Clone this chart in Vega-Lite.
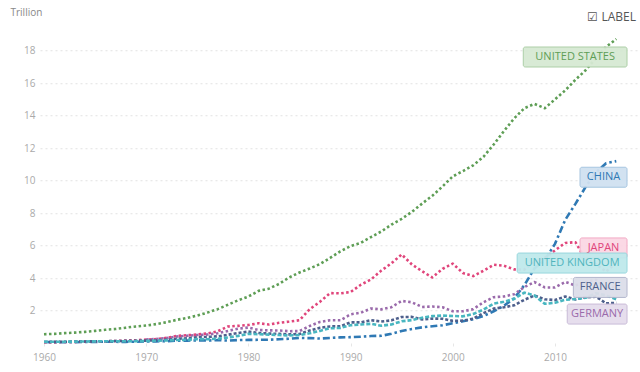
{
  "$schema": "https://vega.github.io/schema/vega-lite/v6.json",
  "autosize": {"type": "none"},
  "width": 600,
  "height": 308.75,
  "padding": {"left": 40, "top": 34.25, "right": 0, "bottom": 29},
  "config": {
    "font": "Open Sans",
    "view": {"stroke": null},
    "axis": {"labelFont": "Open Sans", "titleFont": "Open Sans"}
  },
  "title": {
    "text": "☑ LABEL",
    "anchor": "end",
    "orient": "top",
    "offset": -17,
    "fontSize": 12,
    "fontWeight": "normal",
    "color": "#555555",
    "font": "Open Sans",
    "dx": -4
  },
  "datasets": {
    "gdp": [
      {"country": "United States", "year": 1960, "gdp": 0.543},
      {"country": "United States", "year": 1961, "gdp": 0.563},
      {"country": "United States", "year": 1962, "gdp": 0.605},
      {"country": "United States", "year": 1963, "gdp": 0.639},
      {"country": "United States", "year": 1964, "gdp": 0.686},
      {"country": "United States", "year": 1965, "gdp": 0.744},
      {"country": "United States", "year": 1966, "gdp": 0.815},
      {"country": "United States", "year": 1967, "gdp": 0.862},
      {"country": "United States", "year": 1968, "gdp": 0.943},
      {"country": "United States", "year": 1969, "gdp": 1.020},
      {"country": "United States", "year": 1970, "gdp": 1.073},
      {"country": "United States", "year": 1971, "gdp": 1.165},
      {"country": "United States", "year": 1972, "gdp": 1.280},
      {"country": "United States", "year": 1973, "gdp": 1.425},
      {"country": "United States", "year": 1974, "gdp": 1.545},
      {"country": "United States", "year": 1975, "gdp": 1.685},
      {"country": "United States", "year": 1976, "gdp": 1.873},
      {"country": "United States", "year": 1977, "gdp": 2.082},
      {"country": "United States", "year": 1978, "gdp": 2.352},
      {"country": "United States", "year": 1979, "gdp": 2.627},
      {"country": "United States", "year": 1980, "gdp": 2.857},
      {"country": "United States", "year": 1981, "gdp": 3.207},
      {"country": "United States", "year": 1982, "gdp": 3.343},
      {"country": "United States", "year": 1983, "gdp": 3.634},
      {"country": "United States", "year": 1984, "gdp": 4.037},
      {"country": "United States", "year": 1985, "gdp": 4.339},
      {"country": "United States", "year": 1986, "gdp": 4.580},
      {"country": "United States", "year": 1987, "gdp": 4.855},
      {"country": "United States", "year": 1988, "gdp": 5.236},
      {"country": "United States", "year": 1989, "gdp": 5.642},
      {"country": "United States", "year": 1990, "gdp": 5.963},
      {"country": "United States", "year": 1991, "gdp": 6.158},
      {"country": "United States", "year": 1992, "gdp": 6.520},
      {"country": "United States", "year": 1993, "gdp": 6.859},
      {"country": "United States", "year": 1994, "gdp": 7.287},
      {"country": "United States", "year": 1995, "gdp": 7.640},
      {"country": "United States", "year": 1996, "gdp": 8.073},
      {"country": "United States", "year": 1997, "gdp": 8.578},
      {"country": "United States", "year": 1998, "gdp": 9.063},
      {"country": "United States", "year": 1999, "gdp": 9.631},
      {"country": "United States", "year": 2000, "gdp": 10.252},
      {"country": "United States", "year": 2001, "gdp": 10.582},
      {"country": "United States", "year": 2002, "gdp": 10.936},
      {"country": "United States", "year": 2003, "gdp": 11.458},
      {"country": "United States", "year": 2004, "gdp": 12.214},
      {"country": "United States", "year": 2005, "gdp": 13.037},
      {"country": "United States", "year": 2006, "gdp": 13.815},
      {"country": "United States", "year": 2007, "gdp": 14.452},
      {"country": "United States", "year": 2008, "gdp": 14.713},
      {"country": "United States", "year": 2009, "gdp": 14.449},
      {"country": "United States", "year": 2010, "gdp": 14.992},
      {"country": "United States", "year": 2011, "gdp": 15.543},
      {"country": "United States", "year": 2012, "gdp": 16.197},
      {"country": "United States", "year": 2013, "gdp": 16.785},
      {"country": "United States", "year": 2014, "gdp": 17.522},
      {"country": "United States", "year": 2015, "gdp": 18.219},
      {"country": "United States", "year": 2016, "gdp": 18.707},

      {"country": "China", "year": 1960, "gdp": 0.0597},
      {"country": "China", "year": 1961, "gdp": 0.0500},
      {"country": "China", "year": 1962, "gdp": 0.0472},
      {"country": "China", "year": 1963, "gdp": 0.0507},
      {"country": "China", "year": 1964, "gdp": 0.0597},
      {"country": "China", "year": 1965, "gdp": 0.0704},
      {"country": "China", "year": 1966, "gdp": 0.0768},
      {"country": "China", "year": 1967, "gdp": 0.0729},
      {"country": "China", "year": 1968, "gdp": 0.0700},
      {"country": "China", "year": 1969, "gdp": 0.0787},
      {"country": "China", "year": 1970, "gdp": 0.0926},
      {"country": "China", "year": 1971, "gdp": 0.0996},
      {"country": "China", "year": 1972, "gdp": 0.1136},
      {"country": "China", "year": 1973, "gdp": 0.1385},
      {"country": "China", "year": 1974, "gdp": 0.1442},
      {"country": "China", "year": 1975, "gdp": 0.1634},
      {"country": "China", "year": 1976, "gdp": 0.1539},
      {"country": "China", "year": 1977, "gdp": 0.1749},
      {"country": "China", "year": 1978, "gdp": 0.1495},
      {"country": "China", "year": 1979, "gdp": 0.1783},
      {"country": "China", "year": 1980, "gdp": 0.1911},
      {"country": "China", "year": 1981, "gdp": 0.1960},
      {"country": "China", "year": 1982, "gdp": 0.2051},
      {"country": "China", "year": 1983, "gdp": 0.2303},
      {"country": "China", "year": 1984, "gdp": 0.2599},
      {"country": "China", "year": 1985, "gdp": 0.3094},
      {"country": "China", "year": 1986, "gdp": 0.3004},
      {"country": "China", "year": 1987, "gdp": 0.2729},
      {"country": "China", "year": 1988, "gdp": 0.3126},
      {"country": "China", "year": 1989, "gdp": 0.3478},
      {"country": "China", "year": 1990, "gdp": 0.3609},
      {"country": "China", "year": 1991, "gdp": 0.3834},
      {"country": "China", "year": 1992, "gdp": 0.4265},
      {"country": "China", "year": 1993, "gdp": 0.4447},
      {"country": "China", "year": 1994, "gdp": 0.5643},
      {"country": "China", "year": 1995, "gdp": 0.7345},
      {"country": "China", "year": 1996, "gdp": 0.8637},
      {"country": "China", "year": 1997, "gdp": 0.9615},
      {"country": "China", "year": 1998, "gdp": 1.0290},
      {"country": "China", "year": 1999, "gdp": 1.0940},
      {"country": "China", "year": 2000, "gdp": 1.2113},
      {"country": "China", "year": 2001, "gdp": 1.3394},
      {"country": "China", "year": 2002, "gdp": 1.4706},
      {"country": "China", "year": 2003, "gdp": 1.6603},
      {"country": "China", "year": 2004, "gdp": 1.9553},
      {"country": "China", "year": 2005, "gdp": 2.2860},
      {"country": "China", "year": 2006, "gdp": 2.7521},
      {"country": "China", "year": 2007, "gdp": 3.5522},
      {"country": "China", "year": 2008, "gdp": 4.5982},
      {"country": "China", "year": 2009, "gdp": 5.1101},
      {"country": "China", "year": 2010, "gdp": 6.1006},
      {"country": "China", "year": 2011, "gdp": 7.5726},
      {"country": "China", "year": 2012, "gdp": 8.5605},
      {"country": "China", "year": 2013, "gdp": 9.6072},
      {"country": "China", "year": 2014, "gdp": 10.4824},
      {"country": "China", "year": 2015, "gdp": 11.0647},
      {"country": "China", "year": 2016, "gdp": 11.1910},

      {"country": "Japan", "year": 1960, "gdp": 0.0443},
      {"country": "Japan", "year": 1961, "gdp": 0.0537},
      {"country": "Japan", "year": 1962, "gdp": 0.0607},
      {"country": "Japan", "year": 1963, "gdp": 0.0699},
      {"country": "Japan", "year": 1964, "gdp": 0.0820},
      {"country": "Japan", "year": 1965, "gdp": 0.0910},
      {"country": "Japan", "year": 1966, "gdp": 0.1056},
      {"country": "Japan", "year": 1967, "gdp": 0.1237},
      {"country": "Japan", "year": 1968, "gdp": 0.1469},
      {"country": "Japan", "year": 1969, "gdp": 0.1720},
      {"country": "Japan", "year": 1970, "gdp": 0.2126},
      {"country": "Japan", "year": 1971, "gdp": 0.2403},
      {"country": "Japan", "year": 1972, "gdp": 0.3181},
      {"country": "Japan", "year": 1973, "gdp": 0.4325},
      {"country": "Japan", "year": 1974, "gdp": 0.4799},
      {"country": "Japan", "year": 1975, "gdp": 0.5218},
      {"country": "Japan", "year": 1976, "gdp": 0.5864},
      {"country": "Japan", "year": 1977, "gdp": 0.7215},
      {"country": "Japan", "year": 1978, "gdp": 1.0135},
      {"country": "Japan", "year": 1979, "gdp": 1.0557},
      {"country": "Japan", "year": 1980, "gdp": 1.1054},
      {"country": "Japan", "year": 1981, "gdp": 1.2184},
      {"country": "Japan", "year": 1982, "gdp": 1.1345},
      {"country": "Japan", "year": 1983, "gdp": 1.2434},
      {"country": "Japan", "year": 1984, "gdp": 1.3186},
      {"country": "Japan", "year": 1985, "gdp": 1.3985},
      {"country": "Japan", "year": 1986, "gdp": 2.0786},
      {"country": "Japan", "year": 1987, "gdp": 2.5327},
      {"country": "Japan", "year": 1988, "gdp": 3.0719},
      {"country": "Japan", "year": 1989, "gdp": 3.0541},
      {"country": "Japan", "year": 1990, "gdp": 3.1328},
      {"country": "Japan", "year": 1991, "gdp": 3.5843},
      {"country": "Japan", "year": 1992, "gdp": 3.9088},
      {"country": "Japan", "year": 1993, "gdp": 4.4545},
      {"country": "Japan", "year": 1994, "gdp": 4.9070},
      {"country": "Japan", "year": 1995, "gdp": 5.4491},
      {"country": "Japan", "year": 1996, "gdp": 4.8332},
      {"country": "Japan", "year": 1997, "gdp": 4.4143},
      {"country": "Japan", "year": 1998, "gdp": 4.0326},
      {"country": "Japan", "year": 1999, "gdp": 4.5625},
      {"country": "Japan", "year": 2000, "gdp": 4.8875},
      {"country": "Japan", "year": 2001, "gdp": 4.3035},
      {"country": "Japan", "year": 2002, "gdp": 4.1152},
      {"country": "Japan", "year": 2003, "gdp": 4.4457},
      {"country": "Japan", "year": 2004, "gdp": 4.8151},
      {"country": "Japan", "year": 2005, "gdp": 4.7554},
      {"country": "Japan", "year": 2006, "gdp": 4.5303},
      {"country": "Japan", "year": 2007, "gdp": 4.5153},
      {"country": "Japan", "year": 2008, "gdp": 5.0379},
      {"country": "Japan", "year": 2009, "gdp": 5.2314},
      {"country": "Japan", "year": 2010, "gdp": 5.7001},
      {"country": "Japan", "year": 2011, "gdp": 6.1575},
      {"country": "Japan", "year": 2012, "gdp": 6.2032},
      {"country": "Japan", "year": 2013, "gdp": 5.1557},
      {"country": "Japan", "year": 2014, "gdp": 4.8504},
      {"country": "Japan", "year": 2015, "gdp": 4.3949},
      {"country": "Japan", "year": 2016, "gdp": 4.9493},

      {"country": "Germany", "year": 1970, "gdp": 0.2151},
      {"country": "Germany", "year": 1971, "gdp": 0.2491},
      {"country": "Germany", "year": 1972, "gdp": 0.2997},
      {"country": "Germany", "year": 1973, "gdp": 0.3985},
      {"country": "Germany", "year": 1974, "gdp": 0.4454},
      {"country": "Germany", "year": 1975, "gdp": 0.4905},
      {"country": "Germany", "year": 1976, "gdp": 0.5192},
      {"country": "Germany", "year": 1977, "gdp": 0.6004},
      {"country": "Germany", "year": 1978, "gdp": 0.7406},
      {"country": "Germany", "year": 1979, "gdp": 0.8814},
      {"country": "Germany", "year": 1980, "gdp": 0.9501},
      {"country": "Germany", "year": 1981, "gdp": 0.8000},
      {"country": "Germany", "year": 1982, "gdp": 0.7767},
      {"country": "Germany", "year": 1983, "gdp": 0.7703},
      {"country": "Germany", "year": 1984, "gdp": 0.7257},
      {"country": "Germany", "year": 1985, "gdp": 0.7326},
      {"country": "Germany", "year": 1986, "gdp": 1.0464},
      {"country": "Germany", "year": 1987, "gdp": 1.2966},
      {"country": "Germany", "year": 1988, "gdp": 1.4018},
      {"country": "Germany", "year": 1989, "gdp": 1.3983},
      {"country": "Germany", "year": 1990, "gdp": 1.7649},
      {"country": "Germany", "year": 1991, "gdp": 1.8620},
      {"country": "Germany", "year": 1992, "gdp": 2.1238},
      {"country": "Germany", "year": 1993, "gdp": 2.0687},
      {"country": "Germany", "year": 1994, "gdp": 2.2059},
      {"country": "Germany", "year": 1995, "gdp": 2.5917},
      {"country": "Germany", "year": 1996, "gdp": 2.5035},
      {"country": "Germany", "year": 1997, "gdp": 2.2186},
      {"country": "Germany", "year": 1998, "gdp": 2.2439},
      {"country": "Germany", "year": 1999, "gdp": 2.1994},
      {"country": "Germany", "year": 2000, "gdp": 1.9499},
      {"country": "Germany", "year": 2001, "gdp": 1.9500},
      {"country": "Germany", "year": 2002, "gdp": 2.0791},
      {"country": "Germany", "year": 2003, "gdp": 2.5053},
      {"country": "Germany", "year": 2004, "gdp": 2.8193},
      {"country": "Germany", "year": 2005, "gdp": 2.8614},
      {"country": "Germany", "year": 2006, "gdp": 3.0026},
      {"country": "Germany", "year": 2007, "gdp": 3.4399},
      {"country": "Germany", "year": 2008, "gdp": 3.7523},
      {"country": "Germany", "year": 2009, "gdp": 3.4180},
      {"country": "Germany", "year": 2010, "gdp": 3.4171},
      {"country": "Germany", "year": 2011, "gdp": 3.7577},
      {"country": "Germany", "year": 2012, "gdp": 3.5440},
      {"country": "Germany", "year": 2013, "gdp": 3.7527},
      {"country": "Germany", "year": 2014, "gdp": 3.8902},
      {"country": "Germany", "year": 2015, "gdp": 3.3759},
      {"country": "Germany", "year": 2016, "gdp": 3.4778},

      {"country": "France", "year": 1960, "gdp": 0.0623},
      {"country": "France", "year": 1961, "gdp": 0.0677},
      {"country": "France", "year": 1962, "gdp": 0.0759},
      {"country": "France", "year": 1963, "gdp": 0.0850},
      {"country": "France", "year": 1964, "gdp": 0.0947},
      {"country": "France", "year": 1965, "gdp": 0.1020},
      {"country": "France", "year": 1966, "gdp": 0.1103},
      {"country": "France", "year": 1967, "gdp": 0.1189},
      {"country": "France", "year": 1968, "gdp": 0.1298},
      {"country": "France", "year": 1969, "gdp": 0.1407},
      {"country": "France", "year": 1970, "gdp": 0.1486},
      {"country": "France", "year": 1971, "gdp": 0.1650},
      {"country": "France", "year": 1972, "gdp": 0.2031},
      {"country": "France", "year": 1973, "gdp": 0.2645},
      {"country": "France", "year": 1974, "gdp": 0.2861},
      {"country": "France", "year": 1975, "gdp": 0.3605},
      {"country": "France", "year": 1976, "gdp": 0.3725},
      {"country": "France", "year": 1977, "gdp": 0.4100},
      {"country": "France", "year": 1978, "gdp": 0.5066},
      {"country": "France", "year": 1979, "gdp": 0.6134},
      {"country": "France", "year": 1980, "gdp": 0.7012},
      {"country": "France", "year": 1981, "gdp": 0.6153},
      {"country": "France", "year": 1982, "gdp": 0.5849},
      {"country": "France", "year": 1983, "gdp": 0.5595},
      {"country": "France", "year": 1984, "gdp": 0.5303},
      {"country": "France", "year": 1985, "gdp": 0.5536},
      {"country": "France", "year": 1986, "gdp": 0.7709},
      {"country": "France", "year": 1987, "gdp": 0.9338},
      {"country": "France", "year": 1988, "gdp": 1.0198},
      {"country": "France", "year": 1989, "gdp": 1.0257},
      {"country": "France", "year": 1990, "gdp": 1.2694},
      {"country": "France", "year": 1991, "gdp": 1.2692},
      {"country": "France", "year": 1992, "gdp": 1.4013},
      {"country": "France", "year": 1993, "gdp": 1.3228},
      {"country": "France", "year": 1994, "gdp": 1.3934},
      {"country": "France", "year": 1995, "gdp": 1.6012},
      {"country": "France", "year": 1996, "gdp": 1.6054},
      {"country": "France", "year": 1997, "gdp": 1.4523},
      {"country": "France", "year": 1998, "gdp": 1.5031},
      {"country": "France", "year": 1999, "gdp": 1.4928},
      {"country": "France", "year": 2000, "gdp": 1.3622},
      {"country": "France", "year": 2001, "gdp": 1.3764},
      {"country": "France", "year": 2002, "gdp": 1.4944},
      {"country": "France", "year": 2003, "gdp": 1.8404},
      {"country": "France", "year": 2004, "gdp": 2.1157},
      {"country": "France", "year": 2005, "gdp": 2.1963},
      {"country": "France", "year": 2006, "gdp": 2.3188},
      {"country": "France", "year": 2007, "gdp": 2.6574},
      {"country": "France", "year": 2008, "gdp": 2.9183},
      {"country": "France", "year": 2009, "gdp": 2.6901},
      {"country": "France", "year": 2010, "gdp": 2.6426},
      {"country": "France", "year": 2011, "gdp": 2.8617},
      {"country": "France", "year": 2012, "gdp": 2.6835},
      {"country": "France", "year": 2013, "gdp": 2.8112},
      {"country": "France", "year": 2014, "gdp": 2.8523},
      {"country": "France", "year": 2015, "gdp": 2.4383},
      {"country": "France", "year": 2016, "gdp": 2.4713},

      {"country": "United Kingdom", "year": 1960, "gdp": 0.0724},
      {"country": "United Kingdom", "year": 1961, "gdp": 0.0770},
      {"country": "United Kingdom", "year": 1962, "gdp": 0.0810},
      {"country": "United Kingdom", "year": 1963, "gdp": 0.0866},
      {"country": "United Kingdom", "year": 1964, "gdp": 0.0945},
      {"country": "United Kingdom", "year": 1965, "gdp": 0.1012},
      {"country": "United Kingdom", "year": 1966, "gdp": 0.1072},
      {"country": "United Kingdom", "year": 1967, "gdp": 0.1114},
      {"country": "United Kingdom", "year": 1968, "gdp": 0.1049},
      {"country": "United Kingdom", "year": 1969, "gdp": 0.1128},
      {"country": "United Kingdom", "year": 1970, "gdp": 0.1247},
      {"country": "United Kingdom", "year": 1971, "gdp": 0.1400},
      {"country": "United Kingdom", "year": 1972, "gdp": 0.1612},
      {"country": "United Kingdom", "year": 1973, "gdp": 0.1863},
      {"country": "United Kingdom", "year": 1974, "gdp": 0.2012},
      {"country": "United Kingdom", "year": 1975, "gdp": 0.2413},
      {"country": "United Kingdom", "year": 1976, "gdp": 0.2321},
      {"country": "United Kingdom", "year": 1977, "gdp": 0.2638},
      {"country": "United Kingdom", "year": 1978, "gdp": 0.3352},
      {"country": "United Kingdom", "year": 1979, "gdp": 0.4384},
      {"country": "United Kingdom", "year": 1980, "gdp": 0.5646},
      {"country": "United Kingdom", "year": 1981, "gdp": 0.5403},
      {"country": "United Kingdom", "year": 1982, "gdp": 0.5150},
      {"country": "United Kingdom", "year": 1983, "gdp": 0.4896},
      {"country": "United Kingdom", "year": 1984, "gdp": 0.4614},
      {"country": "United Kingdom", "year": 1985, "gdp": 0.4894},
      {"country": "United Kingdom", "year": 1986, "gdp": 0.6010},
      {"country": "United Kingdom", "year": 1987, "gdp": 0.7452},
      {"country": "United Kingdom", "year": 1988, "gdp": 0.9103},
      {"country": "United Kingdom", "year": 1989, "gdp": 0.9260},
      {"country": "United Kingdom", "year": 1990, "gdp": 1.0932},
      {"country": "United Kingdom", "year": 1991, "gdp": 1.1421},
      {"country": "United Kingdom", "year": 1992, "gdp": 1.1791},
      {"country": "United Kingdom", "year": 1993, "gdp": 1.0613},
      {"country": "United Kingdom", "year": 1994, "gdp": 1.1404},
      {"country": "United Kingdom", "year": 1995, "gdp": 1.3353},
      {"country": "United Kingdom", "year": 1996, "gdp": 1.4082},
      {"country": "United Kingdom", "year": 1997, "gdp": 1.5541},
      {"country": "United Kingdom", "year": 1998, "gdp": 1.6529},
      {"country": "United Kingdom", "year": 1999, "gdp": 1.6870},
      {"country": "United Kingdom", "year": 2000, "gdp": 1.6617},
      {"country": "United Kingdom", "year": 2001, "gdp": 1.6409},
      {"country": "United Kingdom", "year": 2002, "gdp": 1.7847},
      {"country": "United Kingdom", "year": 2003, "gdp": 2.0546},
      {"country": "United Kingdom", "year": 2004, "gdp": 2.4219},
      {"country": "United Kingdom", "year": 2005, "gdp": 2.5385},
      {"country": "United Kingdom", "year": 2006, "gdp": 2.7132},
      {"country": "United Kingdom", "year": 2007, "gdp": 3.0994},
      {"country": "United Kingdom", "year": 2008, "gdp": 2.9237},
      {"country": "United Kingdom", "year": 2009, "gdp": 2.4109},
      {"country": "United Kingdom", "year": 2010, "gdp": 2.4753},
      {"country": "United Kingdom", "year": 2011, "gdp": 2.6595},
      {"country": "United Kingdom", "year": 2012, "gdp": 2.7047},
      {"country": "United Kingdom", "year": 2013, "gdp": 2.7860},
      {"country": "United Kingdom", "year": 2014, "gdp": 3.0649},
      {"country": "United Kingdom", "year": 2015, "gdp": 2.9285},
      {"country": "United Kingdom", "year": 2016, "gdp": 2.6940}
    ],
    "labels": [
      {"country": "United States", "label": "UNITED STATES", "start": 2006.9, "end": 2017.05, "value": 17.6},
      {"country": "China", "label": "CHINA", "start": 2012.45, "end": 2017.05, "value": 10.2},
      {"country": "Japan", "label": "JAPAN", "start": 2012.45, "end": 2017.05, "value": 5.85},
      {"country": "United Kingdom", "label": "UNITED KINGDOM", "start": 2006.3, "end": 2017.05, "value": 4.92},
      {"country": "France", "label": "FRANCE", "start": 2011.8, "end": 2017.05, "value": 3.42},
      {"country": "Germany", "label": "GERMANY", "start": 2011.2, "end": 2017.05, "value": 1.78}
    ]
  },
  "layer": [
    {
      "data": {"name": "gdp"},
      "mark": {"type": "line", "strokeWidth": 2.6, "strokeCap": "butt", "strokeJoin": "round"},
      "encoding": {
        "x": {
          "field": "year", "type": "quantitative",
          "scale": {"domain": [1959.61, 2018.32], "nice": false, "zero": false},
          "axis": {
            "title": null, "values": [1960, 1970, 1980, 1990, 2000, 2010], "tickCount": 20,
            "format": "d", "domain": false, "grid": false,
            "ticks": true, "tickSize": 3, "tickColor": "#e6e6e6",
            "labelColor": "#aaaaaa", "labelFontSize": 10, "labelPadding": 6
          }
        },
        "y": {
          "field": "gdp", "type": "quantitative",
          "scale": {"domain": [0, 19], "nice": false},
          "axis": {
            "title": "Trillion", "titleAngle": 0, "titleAlign": "left", "titleBaseline": "middle",
            "titleX": -30, "titleY": -22, "titleColor": "#888888", "titleFontSize": 10, "titleFontWeight": "normal",
            "values": [2, 4, 6, 8, 10, 12, 14, 16, 18], "tickCount": 20,
            "labelOverlap": false, "labelBound": false,
            "domain": false, "ticks": false,
            "labelColor": "#aaaaaa", "labelFontSize": 10, "labelPadding": 5,
            "grid": true, "gridColor": "#e2e2e2", "gridDash": [2, 3], "gridWidth": 1
          }
        },
        "color": {
          "field": "country", "type": "nominal", "legend": null,
          "scale": {
            "domain": ["United States", "China", "Japan", "Germany", "France", "United Kingdom"],
            "range": ["#5e9e55", "#2f79b4", "#e0457b", "#9a6aab", "#4d5f8c", "#48b6c0"]
          }
        },
        "strokeDash": {
          "field": "country", "type": "nominal", "legend": null,
          "scale": {
            "domain": ["United States", "China", "Japan", "Germany", "France", "United Kingdom"],
            "range": [[2.5, 2.5], [7, 3, 2.5, 3], [2.5, 2.5], [2.5, 2.5], [3, 2], [4, 2]]
          }
        },
        "detail": {"field": "country"}
      }
    },
    {
      "data": {"name": "labels"},
      "transform": [{"filter": "datum.country != 'United Kingdom'"}],
      "mark": {"type": "rect", "height": 20, "cornerRadius": 2, "strokeWidth": 1, "opacity": 0.95},
      "encoding": {
        "x": {"field": "start", "type": "quantitative"},
        "x2": {"field": "end"},
        "y": {"field": "value", "type": "quantitative"},
        "fill": {
          "field": "country", "type": "nominal", "legend": null,
          "scale": {
            "domain": ["United States", "China", "Japan", "Germany", "France", "United Kingdom"],
            "range": ["#d6e9d3", "#d0e1f1", "#fbd7e4", "#e5dded", "#dcdee9", "#bfe9ec"]
          }
        },
        "stroke": {
          "field": "country", "type": "nominal", "legend": null,
          "scale": {
            "domain": ["United States", "China", "Japan", "Germany", "France", "United Kingdom"],
            "range": ["#a9cda3", "#a3c3df", "#f2a7c2", "#c7b9d6", "#b0b4cb", "#93d6dc"]
          }
        }
      }
    },
    {
      "data": {"name": "labels"},
      "transform": [
        {"filter": "datum.country != 'United Kingdom'"},
        {"calculate": "(datum.start + datum.end) / 2", "as": "mid"}
      ],
      "mark": {"type": "text", "align": "center", "baseline": "middle", "fontSize": 11, "font": "Open Sans"},
      "encoding": {
        "x": {"field": "mid", "type": "quantitative"},
        "y": {"field": "value", "type": "quantitative"},
        "text": {"field": "label"},
        "color": {
          "field": "country", "type": "nominal", "legend": null,
          "scale": {
            "domain": ["United States", "China", "Japan", "Germany", "France", "United Kingdom"],
            "range": ["#5e9e55", "#3f7db3", "#e0457b", "#9a87b2", "#5a6591", "#4fb4bd"]
          }
        }
      }
    },
    {
      "data": {"name": "labels"},
      "transform": [{"filter": "datum.country == 'United Kingdom'"}],
      "mark": {"type": "rect", "height": 20, "cornerRadius": 2, "strokeWidth": 1, "opacity": 0.95},
      "encoding": {
        "x": {"field": "start", "type": "quantitative"},
        "x2": {"field": "end"},
        "y": {"field": "value", "type": "quantitative"},
        "fill": {"value": "#bfe9ec"},
        "stroke": {"value": "#93d6dc"}
      }
    },
    {
      "data": {"name": "labels"},
      "transform": [
        {"filter": "datum.country == 'United Kingdom'"},
        {"calculate": "(datum.start + datum.end) / 2", "as": "mid"}
      ],
      "mark": {"type": "text", "align": "center", "baseline": "middle", "fontSize": 11, "font": "Open Sans"},
      "encoding": {
        "x": {"field": "mid", "type": "quantitative"},
        "y": {"field": "value", "type": "quantitative"},
        "text": {"field": "label"},
        "color": {"value": "#4fb4bd"}
      }
    }
  ]
}
